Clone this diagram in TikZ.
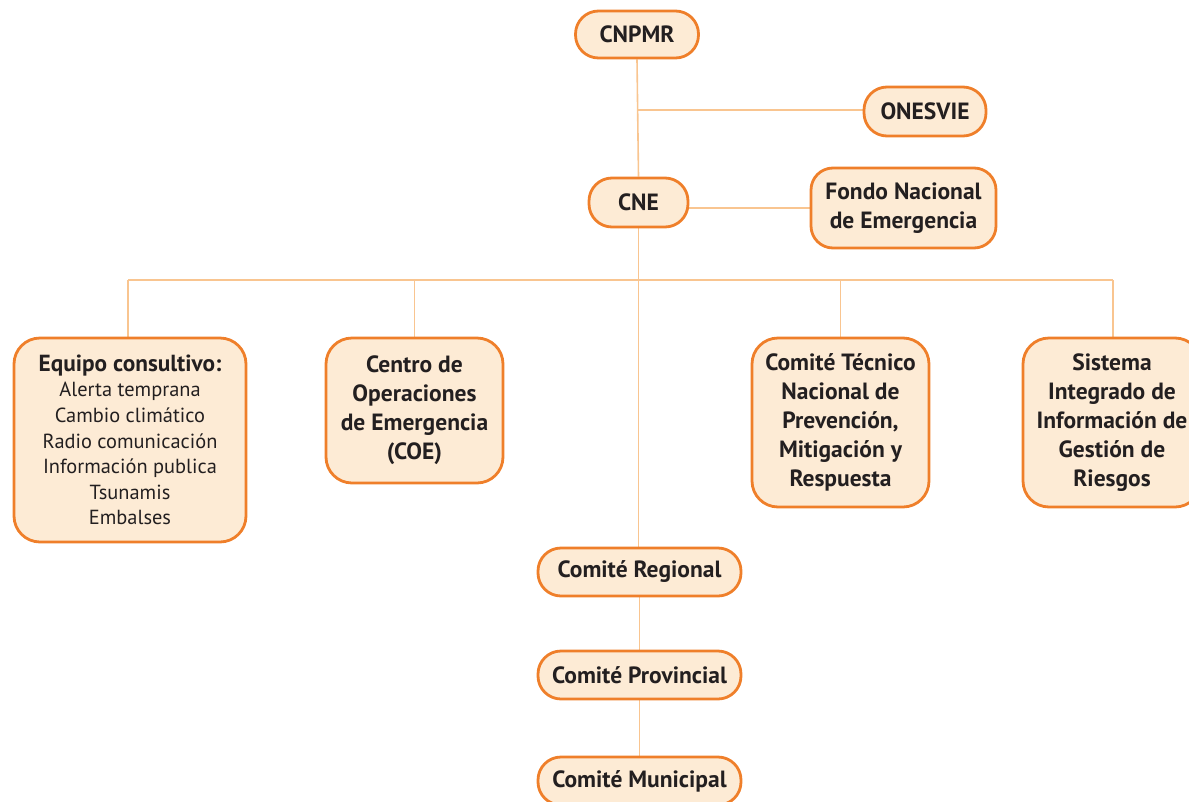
\documentclass[tikz,border=0pt]{standalone}
\usepackage{fontspec}
\setmainfont{PT Sans}
\usetikzlibrary{backgrounds}
\definecolor{boxline}{HTML}{EF7F2A}
\definecolor{boxfill}{HTML}{FDEBD5}
\definecolor{conn}{HTML}{F9C590}
\definecolor{txt}{HTML}{231F20}
\tikzset{
  orgbox/.style={draw=boxline, line width=2.8pt, fill=boxfill, rounded corners=23pt,
    align=center, text=txt, font=\fontsize{23.5}{29}\selectfont\bfseries, inner sep=2pt},
  bigbox/.style={orgbox, rounded corners=26pt},
  conline/.style={draw=conn, line width=1.6pt},
}
\begin{document}
\begin{tikzpicture}[x=1pt,y=-1pt]
\useasboundingbox (0,0) rectangle (1189,801);
\clip (0,0) rectangle (1189,801);
% nodes
\node[orgbox, minimum width=123pt, minimum height=47pt] (cnpmr) at (637,34.5) {CNPMR};
\node[orgbox, minimum width=122pt, minimum height=49pt] (onesvie) at (925,111.5) {ONESVIE};
\node[orgbox, minimum width=99pt, minimum height=49pt] (cne) at (638.5,202.5) {CNE};
\node[bigbox, minimum width=185pt, minimum height=80pt, rounded corners=22pt] (fondo) at (903.5,208) {Fondo Nacional\\de Emergencia};
\node[bigbox, minimum width=232pt, minimum height=204pt, font=\fontsize{20.4}{25.6}\selectfont] (equipo) at (130,440) {{\fontsize{23.3}{25.6}\selectfont\bfseries Equipo consultivo:}\\Alerta temprana\\Cambio climático\\Radio comunicación\\Información publica\\Tsunamis\\Embalses};
\node[bigbox, minimum width=177pt, minimum height=145pt] (coe) at (414.5,410.5) {Centro de\\Operaciones\\de Emergencia\\(COE)};
\node[bigbox, minimum width=177pt, minimum height=169pt] (ctn) at (840.5,422.5) {Comité Técnico\\Nacional de\\Prevención,\\Mitigación y\\Respuesta};
\node[bigbox, minimum width=178pt, minimum height=169pt] (sis) at (1112,422.5) {Sistema\\Integrado de\\Información de\\Gestión de\\Riesgos};
\node[orgbox, minimum width=203pt, minimum height=48pt] (reg) at (639.5,572) {Comité Regional};
\node[orgbox, minimum width=203pt, minimum height=48pt] (prov) at (639.5,675) {Comité Provincial};
\node[orgbox, minimum width=203pt, minimum height=48pt] (mun) at (639.5,781) {Comité Municipal};
% coordinates
\coordinate (j1) at (638,110);
\coordinate (bl) at (128,280);
\coordinate (br) at (1113,280);
% connectors
\begin{scope}[on background layer]
\draw[conline] (cnpmr.south) -- (cne.north);
\draw[conline] (j1) -- (j1 -| onesvie.west);
\draw[conline] (fondo.west) -- (fondo.west -| cne.east);
\draw[conline] (cne.south) -- (cne.south |- reg.north);
\draw[conline] (bl) -- (br);
\draw[conline] (bl) -- (bl |- equipo.north);
\draw[conline] (coe.north |- bl) -- (coe.north);
\draw[conline] (ctn.north |- bl) -- (ctn.north);
\draw[conline] (br) -- (br |- sis.north);
\draw[conline] (reg.south) -- (prov.north);
\draw[conline] (prov.south) -- (mun.north);
\end{scope}
\end{tikzpicture}
\end{document}
